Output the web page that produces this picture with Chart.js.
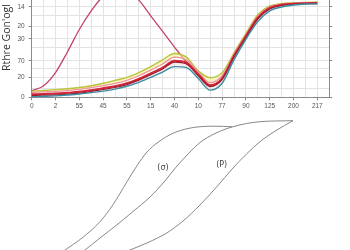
<!DOCTYPE html>
<html>
<head>
<meta charset="utf-8">
<script src="https://cdn.jsdelivr.net/npm/chart.js@4"></script>
<style>
  html, body { margin:0; padding:0; background:#fff; overflow:hidden; width:350px; height:250px; }
  #wrap { position:relative; width:350px; height:250px; overflow:hidden; }
  #top { position:absolute; left:0; top:-30px; }
  #bottom { position:absolute; left:0; top:115px; }
</style>
</head>
<body>
<div id="wrap">
  <canvas id="top" width="350" height="145"></canvas>
  <canvas id="bottom" width="350" height="135"></canvas>
</div>
<script>
// ---------- top chart data ----------
const xSteps = [0,1,2,3,4,5,6,7,8,9,10,11,12,13,14,15,16,17,18,19,20,21,22,23,24];
const xTickLabels = ['0','2','55','45','55','15','40','10','77','90','125','200','217'];
const yTickValues = [0, 9, 20.6, 29, 37.3, 50.6, 59.6, 72.3, 84, 92.3];
const yTickLabels = ['0','','20','','70','','30','20','','14'];
const yAxisTitle = "Rthre Gon'ogl";

const tealSeries   = [0.6,1,1.5,2.3,3.3,4.8,6.3,8.3,11.3,15.3,20.3,25.8,31.3,30.3,19.3,7.3,14.3,38.3,59.3,77.3,88.3,92.3,94.3,95.3,95.5];
const darkRedSeries= [1.8,2.1,2.5,3.3,4.3,6,8,10,13,17.5,23,29,36,34,22,11,18,41,61,80,90.3,93.8,95,95.6,95.8];
const redSeries    = [3,3.3,3.8,4.6,5.6,7.3,9.3,11.3,14.3,18.8,24.3,30.3,37.3,35.3,23.3,12.3,19.3,42.3,62.3,81.3,91.3,94.5,95.5,96.1,96.3];
const pinkSeries   = [5,5.5,6,7,8,9.8,12,14.2,17.3,22,27.8,34,41,38,26,15,22,44,64,83,92.5,95.2,96,96.6,96.8];
const yellowSeries = [6.3,7,7.8,8.8,10,11.8,14.3,17.3,20.3,25.3,31.3,38.3,44.8,41,27,20,25,45.3,65.3,84.3,93.3,95.8,96.6,97,97.3];
const peakSeries   = [6.6,11.8,25.3,46.3,69.3,88.3,103.3,111.3,109.3,99.3,83.3,67.3,51.3,36.3,25.3,12.3,19.3,42.3,62.3,81.3,91.3,94.5,95.5,96.1,96.3];

// ---------- bottom chart data ----------
const curve1X = [57,65,82,100,113,127,137,147,158,173,188,200,215,232];
const curve1Y = [-5.5,0,12,28.3,45.3,68.3,84.3,98,107.7,116.7,121.5,123.3,123.8,123.2];
const curve2X = [77,85,100,116.7,133,150,164,177,189,200,215,233,260,293];
const curve2Y = [-6,0,12,25,38.5,53,68,84,97,107.5,116.5,123.3,128.3,129.3];
const curve3X = [117,130,148,166.7,183,200,217,233,247,260,276,293];
const curve3Y = [-6,0,7.5,17,29,45,63.5,82,96.5,108.3,119.5,129.3];
const curveLabels = ['(σ)','(P)'];
const curveLabelX = [163, 221.7];
const curveLabelY = [82.3, 85];

const pts = arr => xSteps.map((x,i)=>({x:x, y:arr[i]}));
const tickFont = { family:'Liberation Sans', size:6.5 };
const majorX = v => v % 2 === 0 && v/2 < xTickLabels.length;
const majorY = v => { const i = yTickValues.indexOf(v); return i >= 0 && yTickLabels[i] !== ''; };

new Chart(document.getElementById('top'), {
  type:'line',
  data:{ datasets:[
    { data:pts(tealSeries), borderColor:'#3a8ea4', borderWidth:1.4, fill:false },
    { data:pts(darkRedSeries), borderColor:'#9c1c2e', borderWidth:1.2, fill:0, backgroundColor:'rgba(245,200,200,0.35)' },
    { data:pts(redSeries), borderColor:'#d4253a', borderWidth:2, fill:false },
    { data:pts(pinkSeries), borderColor:'#ee9595', borderWidth:1.3, fill:false },
    { data:pts(yellowSeries), borderColor:'#b8c43a', borderWidth:1.4, fill:'-1', backgroundColor:'rgba(246,238,160,0.6)' },
    { data:pts(peakSeries), borderColor:'#c2446a', borderWidth:1.3, fill:false }
  ]},
  options:{
    responsive:false, animation:false, devicePixelRatio:1,
    layout:{ padding:{ top:5, right:16.8, left:0, bottom:0 } },
    plugins:{ legend:{display:false}, tooltip:{enabled:false} },
    elements:{ point:{ radius:0 }, line:{ cubicInterpolationMode:'monotone' } },
    scales:{
      x:{ type:'linear', min:0, max:25,
          ticks:{ stepSize:1, autoSkip:false, maxRotation:0, padding:2, color:'#555', font:tickFont,
                  callback:(v)=> majorX(v) ? xTickLabels[v/2] : '' },
          grid:{ color:'#e3e3e3', lineWidth:1, tickLength:3,
                 tickColor:(c)=> (c.tick && majorX(c.tick.value)) ? '#888' : 'rgba(0,0,0,0)' },
          border:{ color:'#8a8a8a' },
          afterFit:(s)=>{ s.height = 17.7; } },
      y:{ type:'linear', min:0, max:122,
          afterBuildTicks:(a)=>{ a.ticks = yTickValues.map(v=>({value:v})); },
          ticks:{ padding:4, color:'#555', font:tickFont, callback:(v,i)=> yTickLabels[i] },
          grid:{ color:'#e3e3e3', lineWidth:1, tickLength:3,
                 tickColor:(c)=> (c.tick && majorY(c.tick.value)) ? '#888' : 'rgba(0,0,0,0)' },
          border:{ color:'#8a8a8a' },
          title:{ display:true, text:yAxisTitle, color:'#333', font:{ family:'Open Sans', size:10.5 }, padding:{top:1,bottom:0} },
          afterFit:(s)=>{ s.width = 31.7; } },
      y2:{ type:'linear', position:'right', min:0, max:122,
           afterBuildTicks:(a)=>{ a.ticks = yTickValues.map(v=>({value:v})); },
           ticks:{ display:false },
           grid:{ drawOnChartArea:false, tickLength:3,
                  tickColor:(c)=> (c.tick && majorY(c.tick.value)) ? '#888' : 'rgba(0,0,0,0)' },
           border:{ color:'#8a8a8a' },
           afterFit:(s)=>{ s.width = 4; } }
    }
  }
});

// ---------- bottom chart ----------
const xy = (xs, ys) => xs.map((x,i)=>({x:x, y:ys[i]}));
const labelPlugin = {
  id:'curveLabels',
  afterDatasetsDraw(chart){
    const c = chart.ctx, sx = chart.scales.x, sy = chart.scales.y;
    c.save();
    c.font = '8px "DejaVu Sans"';
    c.fillStyle = '#444';
    c.textAlign = 'center'; c.textBaseline = 'middle';
    curveLabels.forEach((t,i)=> c.fillText(t, sx.getPixelForValue(curveLabelX[i]), sy.getPixelForValue(curveLabelY[i])));
    c.restore();
  }
};
new Chart(document.getElementById('bottom'), {
  type:'line',
  data:{ datasets:[
    { data:xy(curve1X, curve1Y) },
    { data:xy(curve2X, curve2Y) },
    { data:xy(curve3X, curve3Y) }
  ]},
  options:{
    responsive:false, animation:false, devicePixelRatio:1,
    layout:{ padding:0 },
    plugins:{ legend:{display:false}, tooltip:{enabled:false} },
    elements:{ point:{ radius:0 }, line:{ borderColor:'#7a7a7a', borderWidth:0.9, cubicInterpolationMode:'monotone', fill:false } },
    scales:{
      x:{ type:'linear', min:0, max:350, display:false },
      y:{ type:'linear', min:0, max:135, display:false }
    }
  },
  plugins:[labelPlugin]
});
</script>
</body>
</html>
